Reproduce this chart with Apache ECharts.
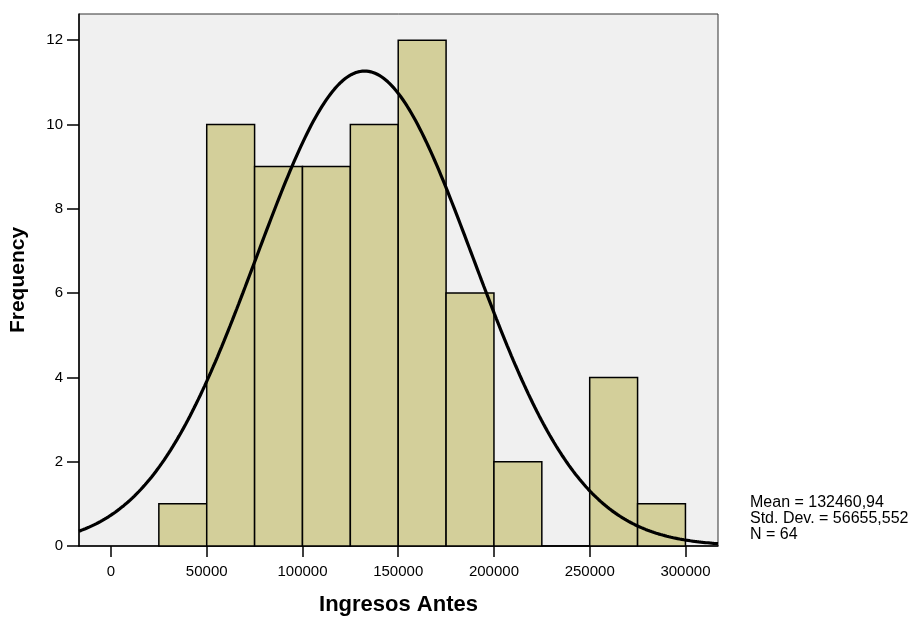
<!DOCTYPE html>
<html>
<head>
<meta charset="utf-8">
<script src="https://cdn.jsdelivr.net/npm/echarts@6/dist/echarts.min.js"></script>
<style>
  html, body { margin: 0; padding: 0; background: #ffffff; }
  #chart { width: 918px; height: 617px; }
</style>
</head>
<body>
<div id="chart"></div>
<script>
// Histogram bins (lower edge, upper edge) and frequencies
const binLower = [25000, 50000, 75000, 100000, 125000, 150000, 175000, 200000, 225000, 250000, 275000];
const binUpper = [50000, 75000, 100000, 125000, 150000, 175000, 200000, 225000, 250000, 275000, 300000];
const counts   = [1, 10, 9, 9, 10, 12, 6, 2, 0, 4, 1];

// Axis tick labels
const xTicks = [0, 50000, 100000, 150000, 200000, 250000, 300000];
const yTicks = [0, 2, 4, 6, 8, 10, 12];

// Summary statistics shown beside the plot
const mean = 132460.94;
const stdDev = 56655.552;
const n = 64;
const statsLines = ['Mean = 132460,94', 'Std. Dev. = 56655,552', 'N = 64'];

const xMin = -16700, xMax = 317000;
const binWidth = 25000;

// Fitted normal curve scaled to counts per bin
const curve = [];
const steps = 300;
for (let i = 0; i <= steps; i++) {
  const x = xMin + (xMax - xMin) * i / steps;
  const z = (x - mean) / stdDev;
  const y = n * binWidth * Math.exp(-0.5 * z * z) / (stdDev * Math.sqrt(2 * Math.PI));
  curve.push([x, y]);
}

const barData = counts.map((c, i) => [binLower[i], binUpper[i], c]);

const chart = echarts.init(document.getElementById('chart'), null, { renderer: 'canvas' });
const font = 'Arial, "Liberation Sans", sans-serif';

chart.setOption({
  animation: false,
  backgroundColor: '#ffffff',
  grid: {
    left: 79, top: 14, right: 200, bottom: 71,
    outerBoundsMode: 'none',
    show: true, backgroundColor: '#f0f0f0', borderColor: '#333', borderWidth: 1
  },
  xAxis: {
    type: 'value',
    min: xMin,
    max: xMax,
    name: 'Ingresos Antes',
    nameLocation: 'middle',
    nameGap: 48,
    nameTextStyle: { fontFamily: font, fontSize: 22, fontWeight: 'bold', color: '#000' },
    splitLine: { show: false },
    axisLine: { show: true, onZero: false, lineStyle: { color: '#000', width: 1.5 } },
    axisTick: { show: true, length: 11, customValues: xTicks, lineStyle: { color: '#000', width: 1.5 } },
    axisLabel: { customValues: xTicks, formatter: v => String(v), fontFamily: font, fontSize: 15, color: '#000', margin: 18 }
  },
  yAxis: {
    type: 'value',
    min: 0,
    max: 12.62,
    name: 'Frequency',
    nameLocation: 'middle',
    nameGap: 50,
    nameRotate: 90,
    nameTextStyle: { fontFamily: font, fontSize: 21, fontWeight: 'bold', color: '#000' },
    splitLine: { show: false },
    axisLine: { show: true, onZero: false, lineStyle: { color: '#000', width: 1.5 } },
    axisTick: { show: true, length: 12, customValues: yTicks, lineStyle: { color: '#000', width: 1.5 } },
    axisLabel: { customValues: yTicks, fontFamily: font, fontSize: 15, color: '#000', margin: 16 }
  },
  series: [
    {
      type: 'custom',
      data: barData,
      encode: { x: [0, 1], y: 2 },
      renderItem: function (params, api) {
        const p0 = api.coord([api.value(0), 0]);
        const p1 = api.coord([api.value(1), api.value(2)]);
        return {
          type: 'rect',
          shape: { x: p0[0], y: p1[1], width: p1[0] - p0[0], height: p0[1] - p1[1] },
          style: { fill: '#d3cf9a', stroke: '#000', lineWidth: 1.5 }
        };
      },
      z: 2
    },
    {
      type: 'line',
      data: curve,
      showSymbol: false,
      smooth: false,
      lineStyle: { color: '#000', width: 3.2 },
      z: 3
    }
  ],
  graphic: statsLines.map((t, i) => ({
    type: 'text',
    left: 750,
    top: 495 + i * 15.8,
    style: { text: t, font: '16px ' + font, fill: '#000' }
  }))
});
</script>
</body>
</html>
